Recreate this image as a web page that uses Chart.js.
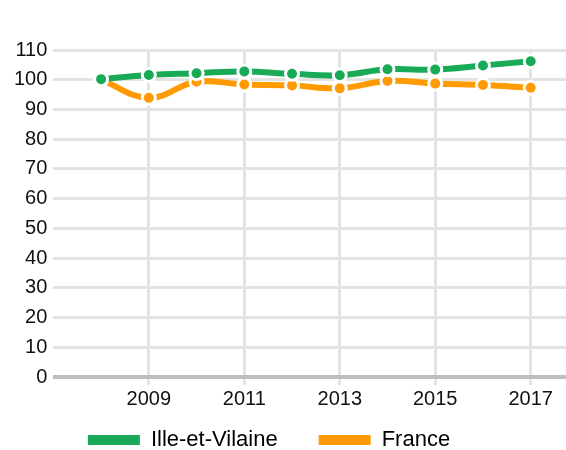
<!DOCTYPE html>
<html><head><meta charset="utf-8">
<script src="https://cdn.jsdelivr.net/npm/chart.js@4"></script>
<style>html,body{margin:0;padding:0;background:#fff;overflow:hidden}#w{width:576px;height:450px}</style>
</head><body><div id="w"><canvas id="c"></canvas></div>
<script>
const years = [2008,2009,2010,2011,2012,2013,2014,2015,2016,2017];
const illeEtVilaine = [100.2,101.6,102.2,102.8,102.0,101.5,103.5,103.4,104.8,106.2];
const france = [100.0,93.9,99.3,98.4,98.1,97.1,99.6,98.7,98.2,97.3];
const xTicks = [2009,2011,2013,2015,2017];
const yTicks = [0,10,20,30,40,50,60,70,80,90,100,110];
const seriesNames = ['Ille-et-Vilaine','France'];

// legend: wide horizontal gap between items, compact vertically
const LEG_SHRINK = 36, LEG_SHIFT_Y = 25, LEG_SHIFT_X = 23;
const LegendEl = Chart.registry.getPlugin('legend')._element;
const origFit = LegendEl.prototype.fit;
LegendEl.prototype.fit = function(){ origFit.call(this); if (this.isHorizontal()) this.height -= LEG_SHRINK; };
const origDraw = LegendEl.prototype.draw;
LegendEl.prototype.draw = function(){
  const t=this.top, l=this.left, r=this.right;
  this.top = t - LEG_SHIFT_Y; this.left = l - LEG_SHIFT_X; this.right = r - LEG_SHIFT_X;
  origDraw.call(this);
  this.top = t; this.left = l; this.right = r;
};

const toPts = arr => arr.map((v,i)=>({x:years[i],y:v}));
const GREEN='#19aa57', ORANGE='#ff9a00';
const FONT='Liberation Sans, Arial, sans-serif';
new Chart(document.getElementById('c'),{
  type:'line',
  data:{datasets:[
    {label:seriesNames[0],data:toPts(illeEtVilaine),borderColor:GREEN,backgroundColor:GREEN,borderWidth:6,tension:0.4,
     pointRadius:6.5,pointBorderWidth:3,pointBorderColor:'#fff',pointBackgroundColor:GREEN},
    {label:seriesNames[1],data:toPts(france),borderColor:ORANGE,backgroundColor:ORANGE,borderWidth:6,tension:0.4,
     pointRadius:6.5,pointBorderWidth:3,pointBorderColor:'#fff',pointBackgroundColor:ORANGE}
  ]},
  options:{
    responsive:true,maintainAspectRatio:false,animation:false,
    layout:{padding:{top:50,right:0,left:8,bottom:0}},
    plugins:{
      legend:{position:'bottom',labels:{boxWidth:52,boxHeight:10,font:{family:FONT,size:22},color:'#111',padding:41,
        generateLabels:(chart)=>chart.data.datasets.map((d,i)=>({text:d.label,fillStyle:d.borderColor,strokeStyle:d.borderColor,lineWidth:0,datasetIndex:i}))}},
      tooltip:{enabled:false}
    },
    scales:{
      x:{type:'linear',min:2007,max:2017.75,
        afterBuildTicks:s=>{s.ticks=xTicks.map(v=>({value:v}));},
        ticks:{font:{family:FONT,size:20},color:'#111',padding:2,autoSkip:false,maxRotation:0,callback:v=>String(v)},
        grid:{color:'#e3e3e3',lineWidth:3,tickLength:8,drawTicks:true},
        border:{display:false}},
      y:{min:0,max:110,
        afterBuildTicks:s=>{s.ticks=yTicks.map(v=>({value:v}));},
        ticks:{font:{family:FONT,size:20},color:'#111',padding:6,autoSkip:false},
        grid:{color:c=>c.tick&&c.tick.value===0?'#bdbdbd':'#e3e3e3',lineWidth:c=>c.tick&&c.tick.value===0?4:3,drawTicks:false},
        border:{display:false}}
    }
  }
});
</script></body></html>
